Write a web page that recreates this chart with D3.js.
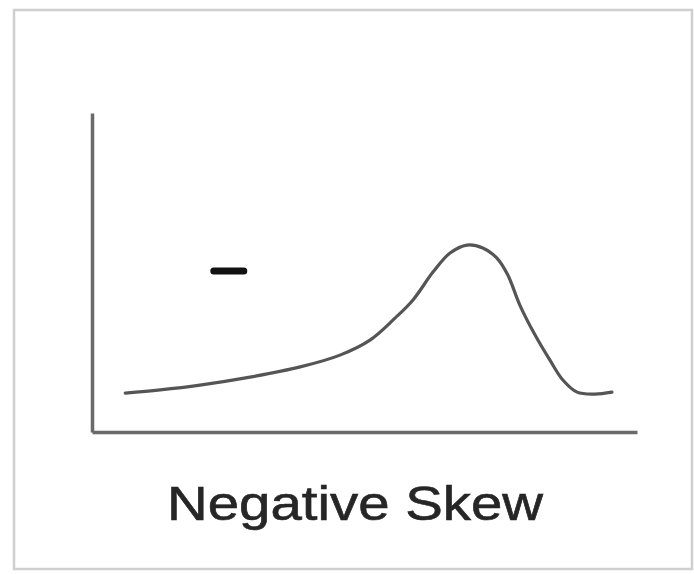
<!DOCTYPE html>
<html>
<head>
<meta charset="utf-8">
<script src="https://cdn.jsdelivr.net/npm/d3@7"></script>
<style>
  html, body { margin: 0; padding: 0; background: #fff; }
  svg { display: block; }
</style>
</head>
<body>
<script>
// Curve data (abstract units, x in 0..100, density in 0..100)
const curveX = [6.1, 12.5, 19.8, 29.0, 38.2, 45.5, 51.0, 55.6, 58.9, 62.6, 65.7, 68.8, 71.7, 74.3, 76.3, 78.5, 81.3, 84.0, 86.4, 89.0, 92.3, 95.4];
const curveY = [12.2, 13.2, 14.7, 17.2, 20.4, 24.1, 28.8, 35.7, 41.4, 50.2, 56.1, 58.6, 57.7, 54.5, 49.2, 39.8, 30.4, 22.6, 16.3, 12.5, 11.9, 12.5];
const signLabel = "–";
const signPos = [25.1, 50.5];
const title = "Negative Skew";

const W = 694, H = 574;
const svg = d3.select("body").append("svg").attr("width", W).attr("height", H);

// frame
svg.append("rect").attr("x", 14).attr("y", 10).attr("width", 678).attr("height", 559)
  .attr("fill", "#fff").attr("stroke", "#cfcfcf").attr("stroke-width", 2.5);

const x = d3.scaleLinear().domain([0, 100]).range([92, 637]);
const y = d3.scaleLinear().domain([0, 100]).range([432, 113]);

// axes
const gx = svg.append("g").attr("transform", `translate(0,${y(0)})`)
  .call(d3.axisBottom(x).ticks(0).tickSize(0).tickFormat(""));
const gy = svg.append("g").attr("transform", `translate(${x(0)},0)`)
  .call(d3.axisLeft(y).ticks(0).tickSize(0).tickFormat(""));
[gx, gy].forEach(g => g.select(".domain").attr("stroke", "#6a6a6a").attr("stroke-width", 3.5));

// curve
const pts = curveX.map((v, i) => [v, curveY[i]]);
svg.append("path").datum(pts)
  .attr("d", d3.line().x(d => x(d[0])).y(d => y(d[1])).curve(d3.curveCatmullRom.alpha(0.5)))
  .attr("fill", "none").attr("stroke", "#555").attr("stroke-width", 3.2)
  .attr("stroke-linecap", "round").attr("stroke-linejoin", "round");

// minus sign
svg.append("line")
  .attr("x1", x(signPos[0]) - 15).attr("x2", x(signPos[0]) + 15)
  .attr("y1", y(signPos[1])).attr("y2", y(signPos[1]))
  .attr("stroke", "#111").attr("stroke-width", 7).attr("stroke-linecap", "round")
  .append("title").text(signLabel);

// title
svg.append("text").attr("x", 167).attr("y", 520)
  .attr("font-family", "Liberation Sans, Arial, sans-serif")
  .attr("font-size", 48).attr("fill", "#262626")
  .attr("stroke", "#262626").attr("stroke-width", 0.6)
  .attr("textLength", 376).attr("lengthAdjust", "spacingAndGlyphs")
  .text(title);
</script>
</body>
</html>
